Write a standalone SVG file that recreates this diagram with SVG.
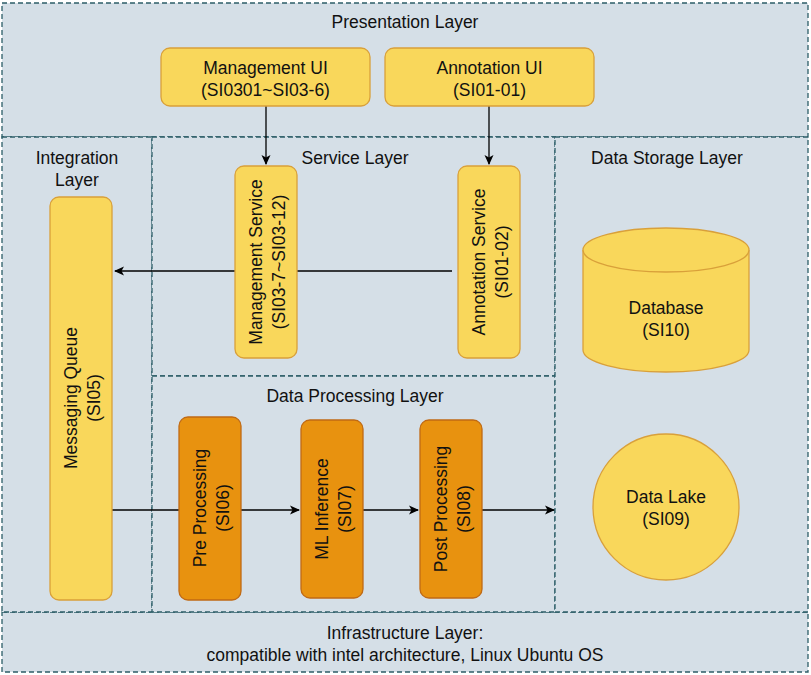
<svg xmlns="http://www.w3.org/2000/svg" width="811" height="675" viewBox="0 0 811 675">
<defs>
<marker id="ah" markerWidth="10" markerHeight="10" refX="9" refY="5" orient="auto" markerUnits="userSpaceOnUse">
<path d="M0,0.5 L10,5 L0,9.5 L2.5,5 Z" fill="#000"/>
</marker>
<style>
.layer{fill:#D5DFE7;stroke:#2D5E68;stroke-width:1.3;stroke-dasharray:5 3}
.y{fill:#F9D75B;stroke:#D9A03A;stroke-width:1.3}
.o{fill:#E8920F;stroke:#C06A14;stroke-width:1.3}
text{font-family:"Liberation Sans",Arial,sans-serif;font-size:17.5px;fill:#111;text-anchor:middle}
.c{stroke:#000;stroke-width:1.3;fill:none}
</style>
</defs>
<rect x="0" y="0" width="811" height="675" fill="#fff"/>
<g id="presentation-layer"><rect class="layer" x="2" y="3" width="806" height="134"/><text x="405" y="28">Presentation Layer</text></g>
<g id="infrastructure-layer"><rect class="layer" x="2" y="612" width="806" height="60"/><text x="405" y="639">Infrastructure Layer:</text><text x="405" y="661">compatible with intel architecture, Linux Ubuntu OS</text></g>
<g id="integration-layer"><rect class="layer" x="2" y="137" width="150" height="475"/><text x="77" y="164">Integration</text><text x="77" y="186">Layer</text></g>
<g id="service-layer"><rect class="layer" x="152" y="137" width="403" height="239"/><text x="355" y="164">Service Layer</text></g>
<g id="data-processing-layer"><rect class="layer" x="152" y="376" width="403" height="236"/><text x="355" y="402">Data Processing Layer</text></g>
<g id="data-storage-layer"><rect class="layer" x="555" y="137" width="253" height="475"/><text x="667" y="164">Data Storage Layer</text></g>
<g id="connectors">
<path class="c" d="M266,106 V164" marker-end="url(#ah)"/>
<path class="c" d="M489,106 V164" marker-end="url(#ah)"/>
<path class="c" d="M452,271 H115" marker-end="url(#ah)"/>
<path class="c" d="M112,510 H179"/>
<path class="c" d="M241,510 H299" marker-end="url(#ah)"/>
<path class="c" d="M363,510 H418" marker-end="url(#ah)"/>
<path class="c" d="M482,510 H554" marker-end="url(#ah)"/>
</g>
<g id="management-ui"><rect class="y" x="161" y="48" width="209" height="58" rx="9"/><text x="265.5" y="74">Management UI</text><text x="265.5" y="96">(SI0301~SI03-6)</text></g>
<g id="annotation-ui"><rect class="y" x="385" y="48" width="209" height="58" rx="9"/><text x="489.5" y="74">Annotation UI</text><text x="489.5" y="96">(SI01-01)</text></g>
<g id="management-service"><rect class="y" x="235" y="166" width="62" height="192" rx="9"/><g transform="translate(266,262) rotate(-90)"><text x="0" y="-4">Management Service</text><text x="0" y="19">(SI03-7~SI03-12)</text></g></g>
<g id="annotation-service"><rect class="y" x="458" y="166" width="62" height="192" rx="9"/><g transform="translate(489,262) rotate(-90)"><text x="0" y="-4">Annotation Service</text><text x="0" y="19">(SI01-02)</text></g></g>
<g id="messaging-queue"><rect class="y" x="50" y="197" width="62" height="403" rx="9"/><g transform="translate(81,398) rotate(-90)"><text x="0" y="-4">Messaging Queue</text><text x="0" y="19">(SI05)</text></g></g>
<g id="pre-processing"><rect class="o" x="179" y="417" width="62" height="183" rx="9"/><g transform="translate(210,508) rotate(-90)"><text x="0" y="-4">Pre Processing</text><text x="0" y="19">(SI06)</text></g></g>
<g id="ml-inference"><rect class="o" x="301" y="420" width="62" height="178" rx="9"/><g transform="translate(332,509) rotate(-90)"><text x="0" y="-4">ML Inference</text><text x="0" y="19">(SI07)</text></g></g>
<g id="post-processing"><rect class="o" x="420" y="420" width="62" height="178" rx="9"/><g transform="translate(451,509) rotate(-90)"><text x="0" y="-4">Post Processing</text><text x="0" y="19">(SI08)</text></g></g>
<g id="database"><path class="y" d="M583,250 A83,22 0 0 1 749,250 V350 A83,22 0 0 1 583,350 Z"/><path class="y" d="M583,250 A83,22 0 0 0 749,250" fill="none"/><text x="666" y="314">Database</text><text x="666" y="336">(SI10)</text></g>
<g id="data-lake"><circle class="y" cx="666" cy="507" r="73"/><text x="666" y="503">Data Lake</text><text x="666" y="525">(SI09)</text></g>
</svg>
